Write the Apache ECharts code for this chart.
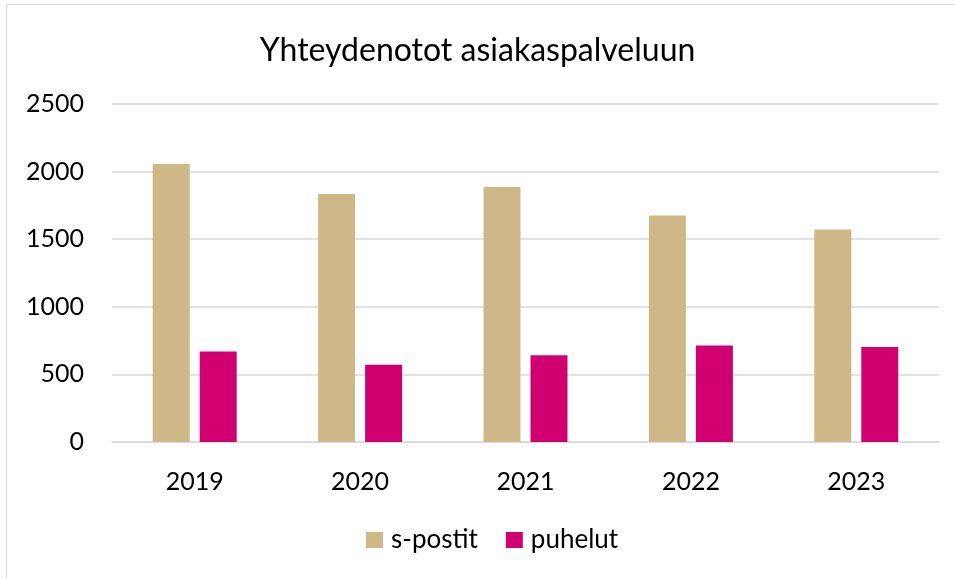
<!DOCTYPE html>
<html>
<head>
<meta charset="utf-8">
<script src="https://cdn.jsdelivr.net/npm/echarts@6/dist/echarts.min.js"></script>
<style>
html,body{margin:0;padding:0;background:#fff;}
#frame{position:absolute;left:6px;top:4px;width:960px;height:590px;border:1px solid #d9d9d9;box-sizing:border-box;}
#chart{position:absolute;left:0;top:0;width:955px;height:579px;}
</style>
</head>
<body>
<div id="frame"></div>
<div id="chart"></div>
<script>
const titleText = "Yhteydenotot asiakaspalveluun";
const categories = ["2019", "2020", "2021", "2022", "2023"];
const seriesNames = ["s-postit", "puhelut"];
const sPostit = [2057, 1834, 1886, 1676, 1572];
const puhelut = [669, 572, 641, 713, 703];
const yTicks = [0, 500, 1000, 1500, 2000, 2500];

const font = "Lato, 'Open Sans', sans-serif";
const chart = echarts.init(document.getElementById('chart'), null, {renderer: 'canvas'});
chart.setOption({
  backgroundColor: 'transparent',
  animation: false,
  title: {
    text: titleText,
    left: 'center',
    top: 30,
    textStyle: {fontFamily: font, fontSize: 32, fontWeight: 'normal', color: '#000'}
  },
  legend: {
    data: seriesNames,
    bottom: 21,
    left: 361,
    itemWidth: 17,
    itemHeight: 16,
    itemGap: 28,
    icon: 'rect',
    textStyle: {fontFamily: font, fontSize: 26, color: '#000', padding: [0, 0, 0, 3]}
  },
  grid: {left: 112, right: 16, top: 104, bottom: 137},
  xAxis: {
    type: 'category',
    data: categories,
    axisLine: {lineStyle: {color: '#d9d9d9', width: 1.5}},
    axisTick: {show: false},
    axisLabel: {fontFamily: font, fontSize: 25, color: '#000', margin: 27}
  },
  yAxis: {
    type: 'value',
    min: yTicks[0],
    max: yTicks[yTicks.length - 1],
    interval: 500,
    axisLine: {show: false},
    axisTick: {show: false},
    splitLine: {lineStyle: {color: '#d9d9d9', width: 1.5}},
    axisLabel: {fontFamily: font, fontSize: 25, color: '#000', margin: 28,
      formatter: function (v) { return String(v); }}
  },
  series: [
    {name: seriesNames[0], type: 'bar', data: sPostit, barWidth: 37, barGap: '27%',
     itemStyle: {color: '#cfb887'}},
    {name: seriesNames[1], type: 'bar', data: puhelut, barWidth: 37,
     itemStyle: {color: '#d10070'}}
  ]
});
</script>
</body>
</html>
